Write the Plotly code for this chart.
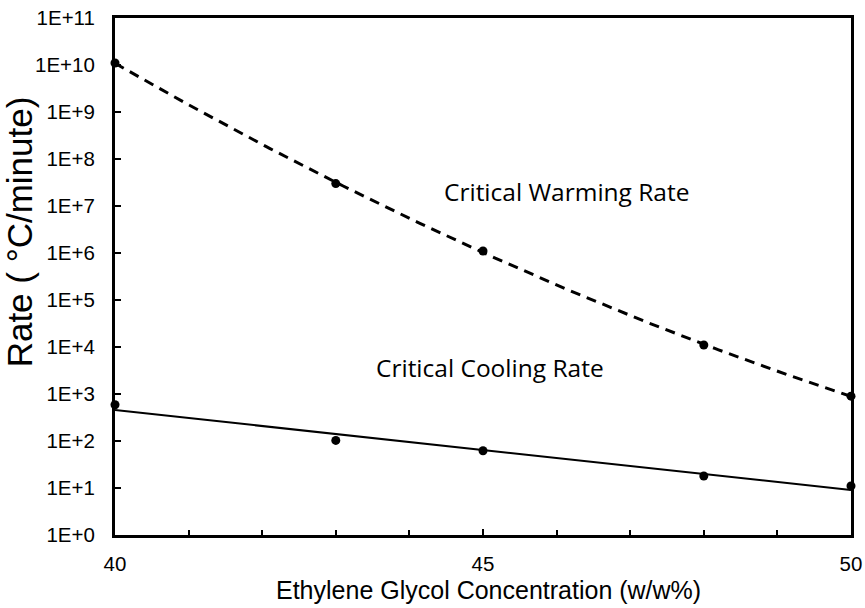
import numpy as np
import plotly.graph_objects as go

# Data
concentration = [40, 43, 45, 48, 50]
warming_rate = [1.1e10, 3.0e7, 1.1e6, 1.1e4, 9.0e2]
cooling_rate = [590, 103, 62, 18, 11]

y_tick_vals = [1e0, 1e1, 1e2, 1e3, 1e4, 1e5, 1e6, 1e7, 1e8, 1e9, 1e10, 1e11]
y_tick_text = ["1E+0", "1E+1", "1E+2", "1E+3", "1E+4", "1E+5",
               "1E+6", "1E+7", "1E+8", "1E+9", "1E+10", "1E+11"]
x_tick_vals = [40, 45, 50]
x_tick_text = ["40", "45", "50"]

# Trendlines (fitted from the data, as the spreadsheet did)
xc = np.array(concentration, dtype=float)
xs = np.linspace(min(concentration), max(concentration), 201)
w_coef = np.polyfit(xc, np.log10(warming_rate), 2)
c_coef = np.polyfit(xc, np.log10(cooling_rate), 1)
w_fit = 10 ** np.polyval(w_coef, xs)
c_fit = 10 ** np.polyval(c_coef, xs)

fig = go.Figure()
fig.add_trace(go.Scatter(x=xs, y=w_fit, mode="lines",
                         line=dict(color="black", width=3, dash="10px,7px"),
                         showlegend=False, hoverinfo="skip", cliponaxis=False))
fig.add_trace(go.Scatter(x=xs, y=c_fit, mode="lines",
                         line=dict(color="black", width=2),
                         showlegend=False, hoverinfo="skip", cliponaxis=False))
fig.add_trace(go.Scatter(x=concentration, y=warming_rate, mode="markers",
                         marker=dict(color="black", size=9),
                         showlegend=False, cliponaxis=False))
fig.add_trace(go.Scatter(x=concentration, y=cooling_rate, mode="markers",
                         marker=dict(color="black", size=9),
                         showlegend=False, cliponaxis=False))

label_font = dict(family="Open Sans", size=24.5, color="black")
fig.add_annotation(x=46.14, y=7.30, xref="x", yref="y", text="Critical Warming Rate",
                   showarrow=False, font=label_font)
fig.add_annotation(x=45.1, y=3.57, xref="x", yref="y", text="Critical Cooling Rate",
                   showarrow=False, font=label_font)

# Axis titles placed as in the reference
fig.add_annotation(x=-0.13, y=0.586, xref="paper", yref="paper",
                   xanchor="center", yanchor="middle",
                   text="Rate ( °C/minute)", textangle=-90, showarrow=False,
                   font=dict(family="Liberation Sans, Arial", size=35, color="black"))
fig.add_annotation(x=0.508, y=-0.1064, xref="paper", yref="paper",
                   xanchor="center", yanchor="middle",
                   text="Ethylene Glycol Concentration (w/w%)", showarrow=False,
                   font=dict(family="Liberation Sans, Arial", size=25, color="black"))

axis_font = dict(family="Liberation Sans, Arial", size=20.5, color="black")
fig.update_xaxes(range=[40, 50], tickvals=x_tick_vals, ticktext=x_tick_text,
                 ticks="inside", ticklen=6, tickwidth=2, tickcolor="black",
                 minor=dict(ticks="inside", dtick=1, ticklen=5, tickwidth=2, tickcolor="black"),
                 showline=True, linewidth=3, linecolor="black", mirror=True,
                 showgrid=False, zeroline=False, tickfont=axis_font,
                 ticklabelstandoff=8, automargin=False, ticklabeloverflow="allow")
fig.update_yaxes(type="log", range=[0, 11], tickvals=y_tick_vals, ticktext=y_tick_text,
                 ticks="inside", ticklen=6, tickwidth=2, tickcolor="black",
                 showline=True, linewidth=3, linecolor="black", mirror=True,
                 showgrid=False, zeroline=False, tickfont=axis_font,
                 ticklabelstandoff=13, automargin=False, ticklabeloverflow="allow")
fig.update_layout(width=865, height=608, plot_bgcolor="white", paper_bgcolor="white",
                  margin=dict(l=115, r=14, t=18, b=73))
# Remove the page's default body margin so the figure fills the window exactly.
fig.write_html("out.html", config={"displayModeBar": False},
               post_script="document.body.style.margin='0px';")
